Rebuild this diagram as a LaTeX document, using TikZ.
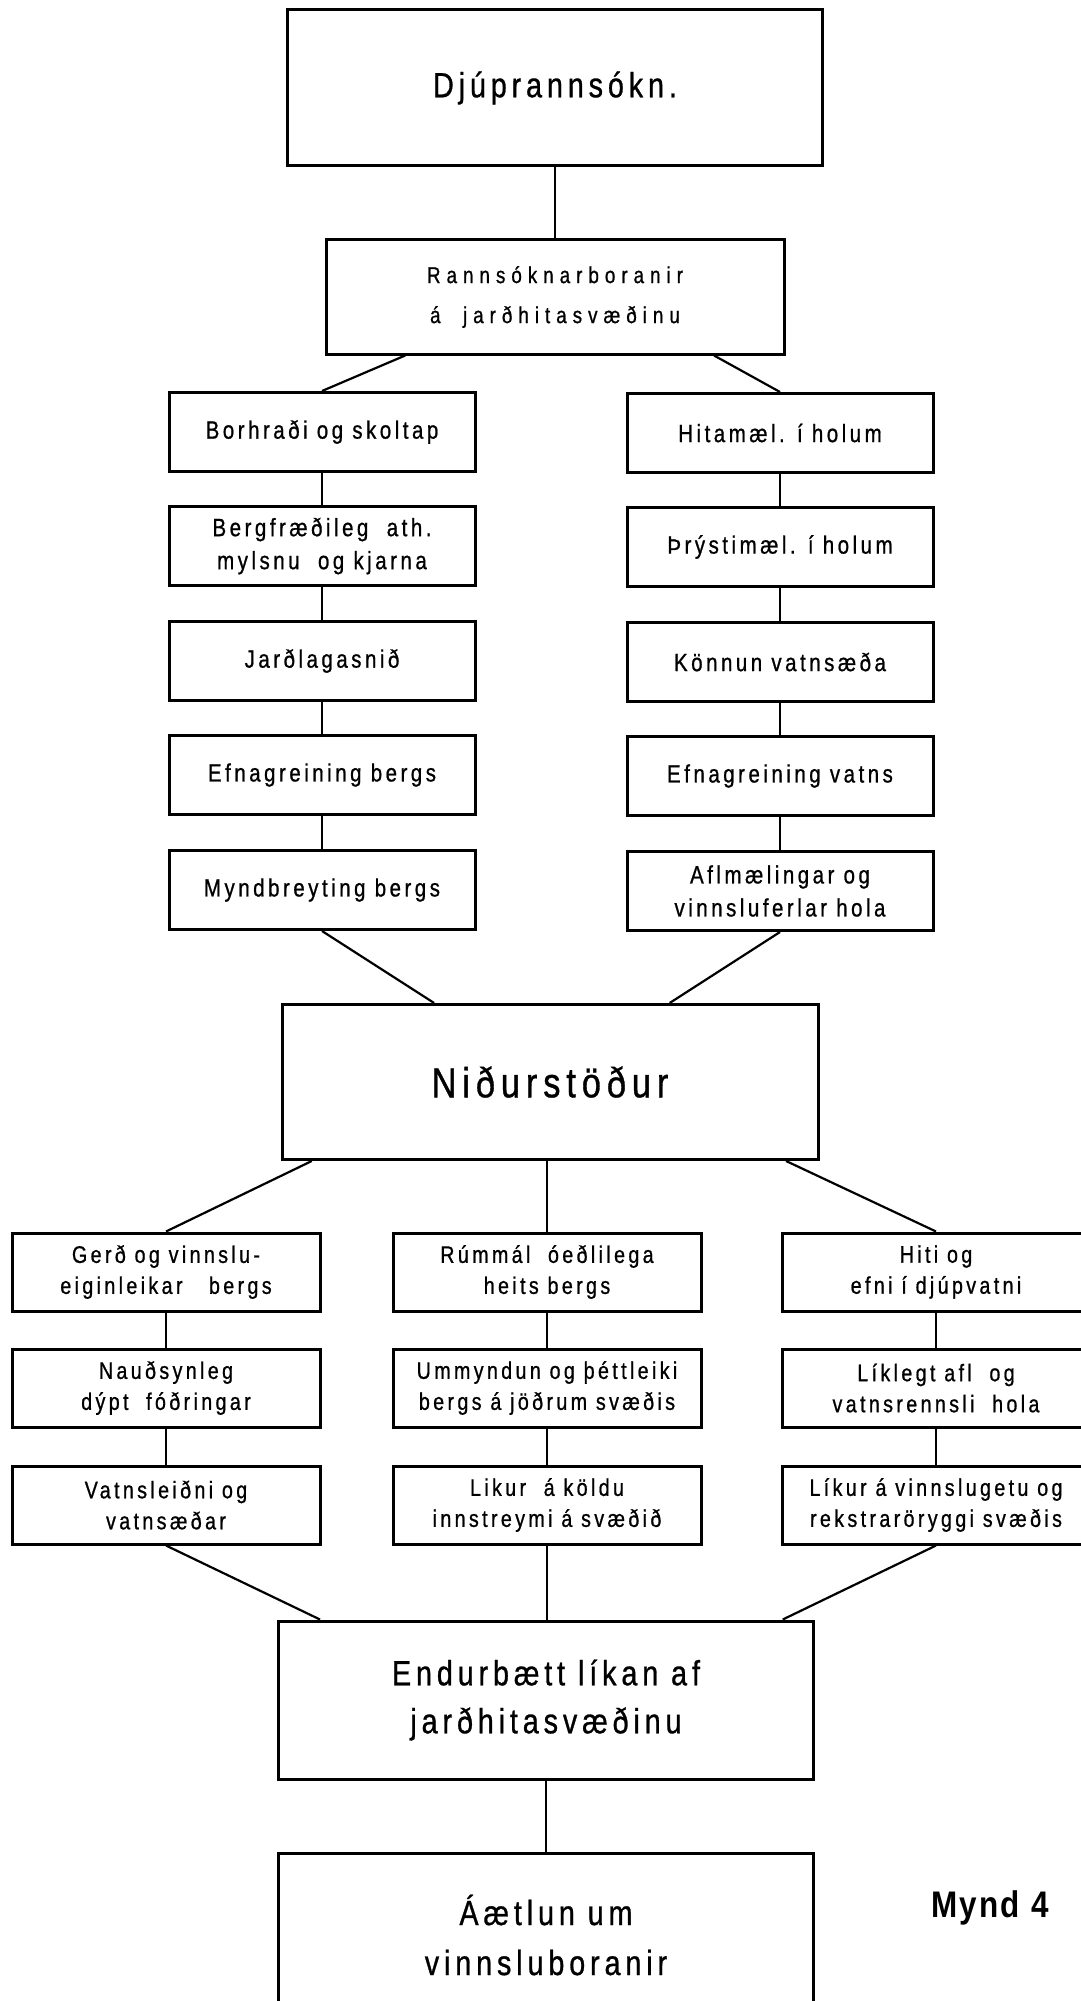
\documentclass[tikz,border=0pt]{standalone}
\usepackage{fontspec}
\setmainfont{Liberation Sans}[FakeStretch=0.82,LetterSpace=14,FakeBold=0.8]
\newfontfamily\widefont{Liberation Sans}[FakeStretch=0.82,LetterSpace=26,FakeBold=0.8]
\newfontfamily\labelfont{Liberation Sans}[FakeStretch=0.85,LetterSpace=6]
\usetikzlibrary{calc}
\tikzset{
  box/.style={draw, line width=3pt, inner sep=0pt, align=center},
  bigbox/.style={box, minimum width=535pt, minimum height=156pt,
    font=\fontsize{35}{48}\selectfont},
  colbox/.style={box, minimum width=306pt, minimum height=79pt,
    font=\fontsize{25}{33}\selectfont},
  lowbox/.style={box, minimum width=308pt, minimum height=78pt,
    font=\fontsize{24}{31}\selectfont},
  link/.style={line width=2.2pt},
}
\begin{document}
\begin{tikzpicture}[x=1pt,y=-1pt]
\useasboundingbox (0,0) rectangle (1080,2001);

% head of the chart
\node[bigbox] (top) at (555,88) {Djúprannsókn.};
\node[box, minimum width=458pt, minimum height=114pt,
      font=\widefont\fontsize{23}{40}\selectfont] (rann) at (555,297)
      {Rannsóknarboranir\\á~~jarðhitasvæðinu};

% left column: rock studies
\node[colbox] (bor)   at (322,432) {Borhraði og skoltap};
\node[colbox] (berg)  at (322,546) {Bergfræðileg~~ath.\\mylsnu~~og kjarna};
\node[colbox] (jard)  at (322,661) {Jarðlagasnið};
\node[colbox] (efnb)  at (322,775) {Efnagreining bergs};
\node[colbox] (myndb) at (322,890) {Myndbreyting bergs};

% right column: well measurements
\node[colbox] (hita) at (780,433) {Hitamæl. í holum};
\node[colbox] (thry) at (780,547) {Þrýstimæl. í holum};
\node[colbox] (konn) at (780,662) {Könnun vatnsæða};
\node[colbox] (efnv) at (780,776) {Efnagreining vatns};
\node[colbox] (afl)  at (780,891) {Aflmælingar og\\vinnsluferlar hola};

% results
\node[bigbox, minimum width=536pt, minimum height=155pt,
      font=\fontsize{42}{50}\selectfont] (nid) at (550,1082) {Niðurstöður};

% three result columns
\node[lowbox] (gerd) at (166,1272) {Gerð og vinnslu-\\eiginleikar~~~bergs};
\node[lowbox] (naud) at (166,1388) {Nauðsynleg\\dýpt~~fóðringar};
\node[lowbox] (vatn) at (166,1505) {Vatnsleiðni og\\vatnsæðar};

\node[lowbox] (rum)  at (547,1272) {Rúmmál~~óeðlilega\\heits bergs};
\node[lowbox] (umm)  at (547,1388) {Ummyndun og þéttleiki\\bergs á jöðrum svæðis};
\node[lowbox] (likk) at (547,1505) {Likur~~á köldu\\innstreymi á svæðið};

\node[lowbox] (hiti) at (936,1272) {Hiti og\\efni í djúpvatni};
\node[lowbox] (likl) at (936,1388) {Líklegt afl~~og\\vatnsrennsli~~hola};
\node[lowbox] (likv) at (936,1505) {Líkur á vinnslugetu og\\rekstraröryggi svæðis};

% model and drilling plan
\node[bigbox, minimum height=158pt] (endu) at (546,1700)
      {Endurbætt líkan af\\jarðhitasvæðinu};
\node[bigbox, minimum height=164pt, font=\fontsize{35}{50}\selectfont]
      (aetl) at (546,1935) {Áætlun um\\vinnsluboranir};

\node[font=\labelfont\bfseries\fontsize{37}{40}\selectfont, inner sep=0pt] (fig) at (990,1908) {Mynd 4};

% connectors
\draw[link] (top.south) -- (rann.north);
\draw[link] ($(rann.south west)!0.175!(rann.south east)$) -- (bor.north);
\draw[link] ($(rann.south west)!0.845!(rann.south east)$) -- (hita.north);
\foreach \a/\b in {bor/berg, berg/jard, jard/efnb, efnb/myndb,
                   hita/thry, thry/konn, konn/efnv, efnv/afl,
                   gerd/naud, naud/vatn, rum/umm, umm/likk, hiti/likl, likl/likv}
  \draw[link] (\a.south) -- (\b.north);
\draw[link] (myndb.south) -- ($(nid.north west)!0.285!(nid.north east)$);
\draw[link] (afl.south) -- ($(nid.north west)!0.722!(nid.north east)$);
\draw[link] ($(nid.south west)!0.058!(nid.south east)$) -- (gerd.north);
\draw[link] (nid.south -| rum.north) -- (rum.north);
\draw[link] ($(nid.south west)!0.938!(nid.south east)$) -- (hiti.north);
\draw[link] (vatn.south) -- ($(endu.north west)!0.08!(endu.north east)$);
\draw[link] (likk.south) -- (likk.south |- endu.north);
\draw[link] (likv.south) -- ($(endu.north west)!0.94!(endu.north east)$);
\draw[link] (endu.south) -- (aetl.north);
\end{tikzpicture}
\end{document}
